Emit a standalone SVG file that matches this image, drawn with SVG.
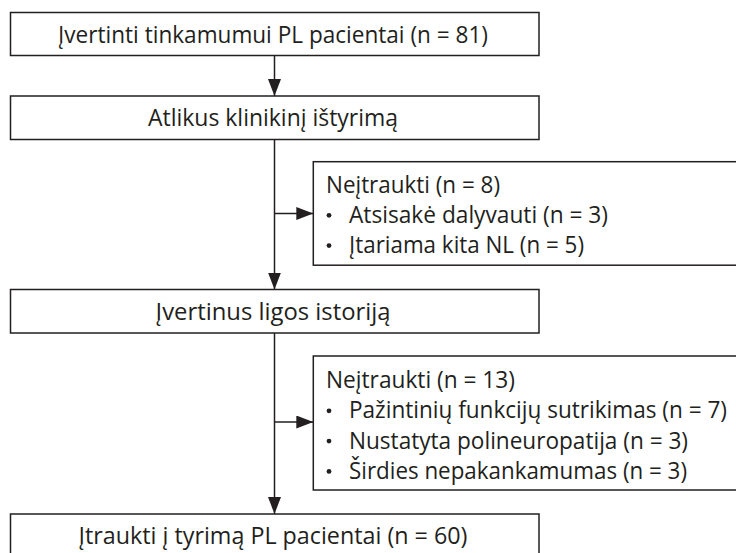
<svg xmlns="http://www.w3.org/2000/svg" width="736" height="553" viewBox="0 0 736 553">
<defs>
<style>
.box{fill:#ffffff;stroke:#231f20;stroke-width:1.5}
.ln{fill:none;stroke:#231f20;stroke-width:1.5}
.t{font-family:"Open Sans","Noto Sans","Liberation Sans",sans-serif;font-size:24px;fill:#231f20}
.c{text-anchor:middle}
.dot{fill:#231f20}
</style>
<marker id="ah" markerUnits="userSpaceOnUse" markerWidth="18" markerHeight="14" refX="17" refY="6.5" orient="auto">
<path d="M0,0 L17,6.5 L0,13 Z" fill="#231f20"/>
</marker>
</defs>
<rect width="736" height="553" fill="#ffffff"/>
<g id="connectors">
<line class="ln" x1="274.5" y1="55.5" x2="274.5" y2="96" marker-end="url(#ah)"/>
<line class="ln" x1="274.5" y1="139.5" x2="274.5" y2="289.5" marker-end="url(#ah)"/>
<line class="ln" x1="274.5" y1="213.5" x2="313.3" y2="213.5" marker-end="url(#ah)"/>
<line class="ln" x1="274.5" y1="333" x2="274.5" y2="514" marker-end="url(#ah)"/>
<line class="ln" x1="274.5" y1="422" x2="313.3" y2="422" marker-end="url(#ah)"/>
</g>
<g id="node1">
<rect class="box" x="10.5" y="12.5" width="528.5" height="43"/>
<text class="t c" x="273" y="43" textLength="430" lengthAdjust="spacingAndGlyphs">Įvertinti tinkamumui PL pacientai (n = 81)</text>
</g>
<g id="node2">
<rect class="box" x="10.5" y="96" width="528.5" height="43.5"/>
<text class="t c" x="273" y="126" textLength="250" lengthAdjust="spacingAndGlyphs">Atlikus klinikinį ištyrimą</text>
</g>
<g id="excl1">
<rect class="box" x="313.3" y="161.7" width="440" height="103.5"/>
<text class="t" x="326" y="192.5" textLength="174" lengthAdjust="spacingAndGlyphs">Neįtraukti (n = 8)</text>
<circle class="dot" cx="329" cy="215.3" r="2.4"/>
<text class="t" x="349" y="222.8" textLength="259" lengthAdjust="spacingAndGlyphs">Atsisakė dalyvauti (n = 3)</text>
<circle class="dot" cx="329" cy="245.6" r="2.4"/>
<text class="t" x="349" y="253.1" textLength="235" lengthAdjust="spacingAndGlyphs">Įtariama kita NL (n = 5)</text>
</g>
<g id="node3">
<rect class="box" x="10.5" y="289.5" width="528.5" height="43.5"/>
<text class="t c" x="273" y="320" textLength="235" lengthAdjust="spacingAndGlyphs">Įvertinus ligos istoriją</text>
</g>
<g id="excl2">
<rect class="box" x="313.3" y="356" width="440" height="134"/>
<text class="t" x="326" y="388" textLength="189" lengthAdjust="spacingAndGlyphs">Neįtraukti (n = 13)</text>
<circle class="dot" cx="329" cy="410.8" r="2.4"/>
<text class="t" x="349" y="418.3" textLength="378" lengthAdjust="spacingAndGlyphs">Pažintinių funkcijų sutrikimas (n = 7)</text>
<circle class="dot" cx="329" cy="441.1" r="2.4"/>
<text class="t" x="349" y="448.6" textLength="339" lengthAdjust="spacingAndGlyphs">Nustatyta polineuropatija (n = 3)</text>
<circle class="dot" cx="329" cy="471.4" r="2.4"/>
<text class="t" x="349" y="478.9" textLength="338" lengthAdjust="spacingAndGlyphs">Širdies nepakankamumas (n = 3)</text>
</g>
<g id="node4">
<rect class="box" x="10.5" y="514" width="528.5" height="60"/>
<text class="t c" x="273" y="544" textLength="389" lengthAdjust="spacingAndGlyphs">Įtraukti į tyrimą PL pacientai (n = 60)</text>
</g>
</svg>
